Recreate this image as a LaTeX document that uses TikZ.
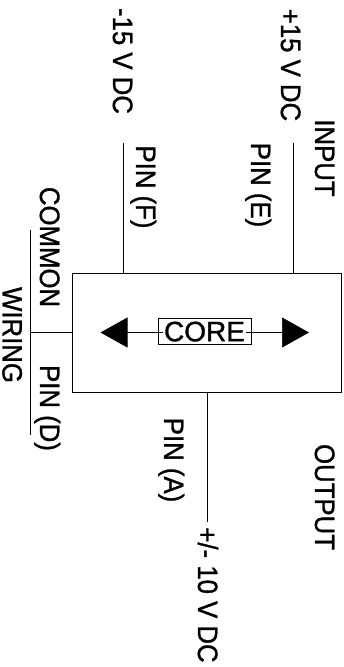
\documentclass[tikz,border=0pt]{standalone}
\usepackage{graphicx}
\usepackage{fontspec}
\newfontfamily\labelfont[FakeBold=1.2]{Liberation Sans}
\usetikzlibrary{arrows.meta}

\begin{document}
\begin{tikzpicture}
[x=1pt,y=-1pt,%
  linedecorate/.style={-,line width=0.7pt},%
  arrowdecorate/.style={-{Triangle[length=27pt,width=30pt]},line width=0.7pt,shorten <=-5pt},%
  boxdecorate/.style={shape=rectangle,draw,line width=0.7pt,inner sep=0pt},%
  textdecorate/.style={inner sep=0pt,text height=20pt,text depth=0pt,
    font=\labelfont\fontsize{28}{28}\selectfont},%
  labeldecorate/.style={textdecorate,rotate=-90}]
\useasboundingbox (0,0) rectangle (344,667);
%%
%% Macros
\newcommand{\narrowtext}[1]{\scalebox{.92}[1]{#1}}
%%
%% Core unit
\node (unit) at (206.5,332.5) [boxdecorate,minimum width=269pt,minimum height=119pt] {};
\node (core) at (204.5,331.2) [boxdecorate,textdecorate,minimum width=93pt,minimum height=26pt] {CORE\hspace{3pt}};
\coordinate (tipleft) at (100.5,332.5);
\coordinate (tipright) at (309,332.5);
\draw[arrowdecorate] (core.west |- tipleft) -- (tipleft);
\draw[arrowdecorate] (core.east |- tipright) -- (tipright);
%%
%% Labels
\foreach \nodename/\x/\y/\nodetext in {
  input/325/158/INPUT, plus/291/65/+15 V DC, minus/123/61/-15 V DC,
  pine/261/185/PIN (E), pinf/146/187/PIN (F), pind/50/408/PIN (D),
  pina/174/460/PIN (A), output/325/497/OUTPUT, bipolar/208/595/{+/- 10 V DC},
  common/50/247/COMMON, wiring/12.5/335/WIRING}
{
  \node (\nodename) at (\x,\y) [labeldecorate] {\narrowtext{\nodetext}};
}
%%
%% Wires
\coordinate (wiree) at (293,143);
\coordinate (wiref) at (123,143);
\coordinate (wirea) at (207,522);
\coordinate (railtop) at (30,230);
\coordinate (railbot) at (30,435);
\draw[linedecorate] (wiree) -- (wiree |- unit.north);
\draw[linedecorate] (wiref) -- (wiref |- unit.north);
\draw[linedecorate] (wirea) -- (wirea |- unit.south);
\draw[linedecorate] (railtop) -- (railbot);
\draw[linedecorate] (railtop |- unit.west) -- (unit.west);
\end{tikzpicture}
\end{document}
